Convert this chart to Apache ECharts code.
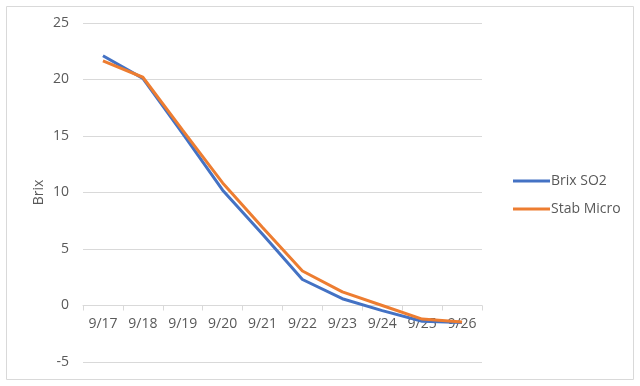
<!DOCTYPE html>
<html><head><meta charset="utf-8">
<script src="https://cdn.jsdelivr.net/npm/echarts@6/dist/echarts.min.js"></script>
<style>html,body{margin:0;padding:0;background:#fff}#c{width:640px;height:386px}</style>
</head><body><div id="c"></div>
<script>
var categories = ['9/17','9/18','9/19','9/20','9/21','9/22','9/23','9/24','9/25','9/26'];
var brixSO2 = [22.1, 20.1, 15.2, 10.2, 6.3, 2.3, 0.6, -0.45, -1.4, -1.5];
var stabMicro = [21.65, 20.2, 15.5, 10.85, 6.9, 3.05, 1.2, 0.0, -1.2, -1.45];
var yTicks = {min: -5, max: 25, interval: 5};

var chart = echarts.init(document.getElementById('c'));
var font = '"Open Sans", "Noto Sans", sans-serif';
var gridTop = 23, gridBottom = 24, H = 386;
var plotH = H - gridTop - gridBottom;
var zeroOffset = -plotH * (0 - yTicks.min) / (yTicks.max - yTicks.min);
chart.setOption({
  animation: false,
  graphic: [{type:'rect', shape:{x:6.5,y:6.5,width:627,height:373}, style:{fill:'none', stroke:'#d9d9d9', lineWidth:1}}],
  grid: {left: 83, right: 158, top: gridTop, bottom: gridBottom, containLabel: false},
  legend: {
    orient: 'vertical', left: 508, top: 169, itemGap: 14,
    itemWidth: 37, itemHeight: 3, icon: 'rect',
    textStyle: {color:'#595959', fontSize: 14, fontFamily: font, padding:[0,0,0,-4]},
    data: ['Brix SO2','Stab Micro']
  },
  xAxis: {
    type: 'category', data: categories, boundaryGap: true, offset: zeroOffset,
    axisLine: {onZero: false, lineStyle: {color:'#d9d9d9'}},
    axisTick: {show: true, length: 5, lineStyle:{color:'#d9d9d9'}},
    axisLabel: {color:'#595959', fontSize: 14, fontFamily: font, margin: 12, interval: 0}
  },
  yAxis: {
    type: 'value', min: yTicks.min, max: yTicks.max, interval: yTicks.interval,
    name: 'Brix', nameLocation: 'middle', nameGap: 37, nameRotate: 90, nameMoveOverlap: false,
    nameTextStyle: {color:'#595959', fontSize: 14, fontFamily: font},
    axisLine: {show:false}, axisTick:{show:false},
    axisLabel: {color:'#595959', fontSize: 14, fontFamily: font, margin: 14},
    splitLine: {lineStyle: {color:'#d9d9d9'}}
  },
  series: [
    {name:'Brix SO2', type:'line', data: brixSO2, showSymbol:false, symbol:'none',
     lineStyle:{color:'#4472C4', width:3}, itemStyle:{color:'#4472C4'}},
    {name:'Stab Micro', type:'line', data: stabMicro, showSymbol:false, symbol:'none',
     lineStyle:{color:'#ED7D31', width:3}, itemStyle:{color:'#ED7D31'}}
  ]
});
</script></body></html>
